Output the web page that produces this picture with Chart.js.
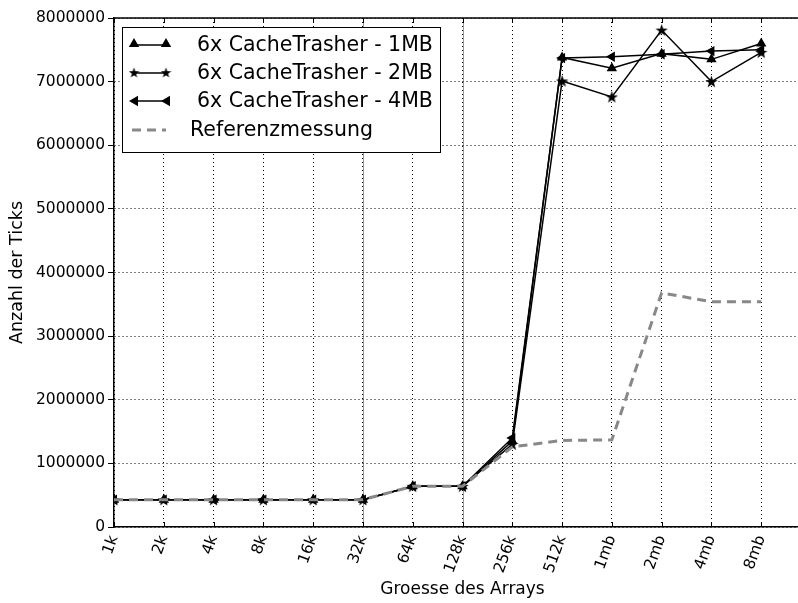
<!DOCTYPE html>
<html>
<head>
<meta charset="utf-8">
<script src="https://cdn.jsdelivr.net/npm/chart.js@4/dist/chart.umd.min.js"></script>
<style>
html, body { margin:0; padding:0; overflow:hidden; background:#fff; width:798px; height:603px; }
#wrap { position:absolute; left:0; top:0; width:817px; height:603px; }
</style>
</head>
<body>
<div id="wrap"><canvas id="c" width="817" height="603"></canvas></div>
<script>
const categories = ['1k','2k','4k','8k','16k','32k','64k','128k','256k','512k','1mb','2mb','4mb','8mb'];
const trasher1MB = [430000,430000,430000,430000,430000,430000,640000,640000,1350000,7380000,7210000,7440000,7350000,7600000];
const trasher2MB = [430000,430000,430000,430000,430000,430000,640000,640000,1300000,7010000,6760000,7810000,7000000,7460000];
const trasher4MB = [430000,430000,430000,430000,430000,430000,640000,640000,1400000,7370000,7390000,7430000,7480000,7500000];
const referenz   = [430000,430000,430000,430000,430000,430000,640000,640000,1260000,1360000,1370000,3680000,3540000,3540000];
const yTicks = [0,1000000,2000000,3000000,4000000,5000000,6000000,7000000,8000000];
const legendLabels = ['6x CacheTrasher - 1MB','6x CacheTrasher - 2MB','6x CacheTrasher - 4MB','Referenzmessung'];
const markedCategories = ['32k','128k'];

const FONT = "'DejaVu Sans', sans-serif";

function makeStar(size) {
  const cv = document.createElement('canvas');
  cv.width = size; cv.height = size;
  const g = cv.getContext('2d');
  const cx = size/2, cy = size/2 + 0.5, R = size/2, r = R*0.4;
  g.beginPath();
  for (let i = 0; i < 10; i++) {
    const rad = (i % 2 === 0) ? R : r;
    const a = -Math.PI/2 + i*Math.PI/5;
    const px = cx + rad*Math.cos(a), py = cy + rad*Math.sin(a);
    if (i === 0) g.moveTo(px, py); else g.lineTo(px, py);
  }
  g.closePath();
  g.fillStyle = '#000';
  g.fill();
  return cv;
}
const starImg = makeStar(13);
const starImgSmall = makeStar(11);

function pts(arr) { return arr.map((v,i) => ({x:i, y:v})); }

function drawTri(ctx, x, y, r, rot) {
  ctx.save();
  ctx.translate(x, y);
  ctx.rotate(rot);
  ctx.beginPath();
  ctx.moveTo(0, -r);
  ctx.lineTo(r*Math.sin(Math.PI*2/3), -r*Math.cos(Math.PI*2/3));
  ctx.lineTo(r*Math.sin(Math.PI*4/3), -r*Math.cos(Math.PI*4/3));
  ctx.closePath();
  ctx.fillStyle = '#000';
  ctx.fill();
  ctx.restore();
}

const framePlugin = {
  id: 'frame',
  beforeDatasetsDraw(chart) {
    const ctx = chart.ctx, a = chart.chartArea, xs = chart.scales.x;
    ctx.save();
    markedCategories.forEach(c => {
      const idx = categories.indexOf(c);
      const px = Math.round(xs.getPixelForValue(idx)) + 0.5;
      ctx.strokeStyle = 'rgba(0,0,0,0.4)';
      ctx.lineWidth = 1;
      ctx.beginPath(); ctx.moveTo(px, a.top); ctx.lineTo(px, a.bottom); ctx.stroke();
    });
    ctx.strokeStyle = '#000';
    ctx.lineWidth = 1.5;
    ctx.beginPath(); ctx.moveTo(a.left, a.top); ctx.lineTo(a.right, a.top); ctx.stroke();
    ctx.lineWidth = 1;
    for (let i = 0; i <= 14; i++) {
      const px = Math.round(xs.getPixelForValue(i)) + 0.5;
      ctx.beginPath(); ctx.moveTo(px, a.top); ctx.lineTo(px, a.top + 5); ctx.stroke();
      ctx.beginPath(); ctx.moveTo(px, a.bottom); ctx.lineTo(px, a.bottom - 5); ctx.stroke();
    }
    ctx.restore();
  },
  afterDraw(chart) {
    const ctx = chart.ctx;
    ctx.save();
    const bx = 122.5, by = 27.5, bw = 318, bh = 125;
    ctx.fillStyle = '#fff';
    ctx.fillRect(bx, by, bw, bh);
    ctx.strokeStyle = '#000';
    ctx.lineWidth = 1;
    ctx.strokeRect(bx, by, bw, bh);
    const rows = [45, 73, 101, 130];
    const x1 = 134, x2 = 166;
    ctx.font = '20.5px ' + FONT;
    ctx.textBaseline = 'middle';
    ctx.fillStyle = '#000';
    for (let k = 0; k < 4; k++) {
      const y = rows[k];
      if (k < 3) {
        ctx.strokeStyle = '#000';
        ctx.lineWidth = 1.5;
        ctx.setLineDash([]);
        ctx.beginPath(); ctx.moveTo(x1, y); ctx.lineTo(x2, y); ctx.stroke();
        if (k === 0) { drawTri(ctx, x1, y - 1, 6, 0); drawTri(ctx, x2, y - 1, 6, 0); }
        if (k === 1) { ctx.drawImage(starImgSmall, x1 - 5.5, y - 6); ctx.drawImage(starImgSmall, x2 - 5.5, y - 6); }
        if (k === 2) { drawTri(ctx, x1 + 1, y, 6, -Math.PI/2); drawTri(ctx, x2 + 1, y, 6, -Math.PI/2); }
        ctx.fillStyle = '#000';
        ctx.fillText(legendLabels[k], 197, y + 1);
      } else {
        ctx.strokeStyle = '#888';
        ctx.lineWidth = 3;
        ctx.setLineDash([9, 6]);
        ctx.beginPath(); ctx.moveTo(x1 - 2, y); ctx.lineTo(x2, y); ctx.stroke();
        ctx.setLineDash([]);
        ctx.fillStyle = '#000';
        ctx.fillText(legendLabels[k], 190, y + 1);
      }
    }
    ctx.restore();
  }
};

const blackLine = { borderColor:'#000', backgroundColor:'#000', borderWidth:1.5, tension:0, fill:false,
  pointBorderColor:'#000', pointBackgroundColor:'#000', pointBorderWidth:0 };

new Chart(document.getElementById('c'), {
  type: 'line',
  data: {
    datasets: [
      Object.assign({ label: legendLabels[0], data: pts(trasher1MB), pointStyle:'triangle', pointRadius:6, order:1 }, blackLine),
      Object.assign({ label: legendLabels[1], data: pts(trasher2MB), pointStyle: starImg, pointRadius:6, order:2 }, blackLine),
      Object.assign({ label: legendLabels[2], data: pts(trasher4MB), pointStyle:'triangle', pointRotation:-90, pointRadius:6, order:3 }, blackLine),
      { label: legendLabels[3], data: pts(referenz), borderColor:'#888', borderWidth:3, borderDash:[9,6], pointRadius:0, tension:0, fill:false, order:0 }
    ]
  },
  options: {
    responsive: false,
    animation: false,
    events: [],
    layout: { padding: { top: 18, right: 5, left: 5, bottom: 0 } },
    plugins: { legend: { display:false }, tooltip: { enabled:false } },
    scales: {
      x: {
        type: 'linear', min: 0, max: 14,
        afterFit(s) { s.height = 76; s.paddingLeft = 0; s.paddingRight = 0; },
        afterBuildTicks(s) { s.ticks = []; for (let i = 0; i <= 14; i++) s.ticks.push({value:i}); },
        grid: { color:'#000', lineWidth:1, drawTicks:false },
        border: { display:true, color:'#000', width:1.5, dash:[1,3] },
        ticks: {
          autoSkip:false, minRotation:70, maxRotation:70, padding:6,
          color:'#000', font:{ family:FONT, size:15.5 },
          callback: (v) => (categories[v] !== undefined ? categories[v] : '')
        },
        title: { display:true, text:'Groesse des Arrays', color:'#000', font:{ family:FONT, size:17 }, padding:{ top:0, bottom:3 } }
      },
      y: {
        min: 0, max: 8000000,
        afterFit(s) { s.paddingTop = 0; s.paddingBottom = 0; },
        afterBuildTicks(s) { s.ticks = yTicks.map(v => ({value:v})); },
        grid: { color:'#000', lineWidth:1, drawTicks:true, tickLength:6, tickColor:'#000', tickBorderDash:[] },
        border: { display:true, color:'#000', width:1.5, dash:[1,3] },
        ticks: { color:'#000', font:{ family:FONT, size:15.5 }, padding:3, callback: (v) => String(v) },
        title: { display:true, text:'Anzahl der Ticks', color:'#000', font:{ family:FONT, size:17.5 }, padding:{ top:2, bottom:5 } }
      }
    }
  },
  plugins: [framePlugin]
});
</script>
</body>
</html>
